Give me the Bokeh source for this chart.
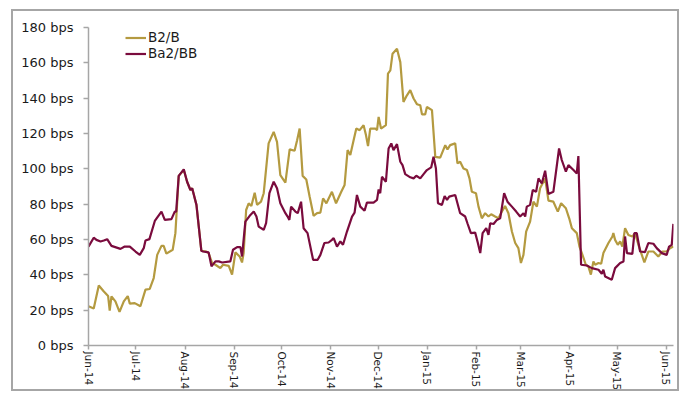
import pandas as pd
from bokeh.plotting import figure
from bokeh.models import FixedTicker, Legend, LegendItem
from bokeh.embed import file_html
from bokeh.resources import INLINE

# ---------------- data ----------------
start_date = "2014-06-01"
month_dates = ["2014-06-01", "2014-07-01", "2014-08-01", "2014-09-01", "2014-10-01",
               "2014-11-01", "2014-12-01", "2015-01-01", "2015-02-01", "2015-03-01",
               "2015-04-01", "2015-05-01", "2015-06-01"]
month_labels = ["Jun-14", "Jul-14", "Aug-14", "Sep-14", "Oct-14", "Nov-14", "Dec-14",
                "Jan-15", "Feb-15", "Mar-15", "Apr-15", "May-15", "Jun-15"]
y_ticks = [0, 20, 40, 60, 80, 100, 120, 140, 160, 180]
y_tick_labels = ["0 bps", "20 bps", "40 bps", "60 bps", "80 bps", "100 bps",
                 "120 bps", "140 bps", "160 bps", "180 bps"]

# days since 2014-06-01
b2_day = [0, 3.3, 6.5, 9.7, 12.4, 13.4, 14.5, 17, 19.6, 22.3, 24.8, 26.1, 29.2, 32.8,
          36, 38.7, 41.2, 43.4, 46.1, 47.5, 49.2, 53.2, 54.9, 57, 60.2, 62.3, 64.4,
          65.5, 68.2, 71.3, 74.3, 75.9, 78.1, 80.2, 83.3, 85, 88.6, 90.7, 92.8, 95.5,
          97, 98, 99.6, 101.2, 102.9, 105, 106.5, 109, 110.7, 113.8, 117, 119.1,
          121.2, 124.4, 127.1, 130.2, 131.8, 133.4, 135.3, 137.6, 139.7, 142.2, 144.4,
          146.5, 148.2, 150.3, 153.8, 156.4, 159.7, 161.8, 163.7, 165.4, 167.5, 169.2,
          171.3, 173.8, 175.3, 176.6, 178, 181.2, 182.3, 183.3, 184.8, 187.9, 189.2,
          190.7, 192.1, 194.9, 197, 199, 201.2, 203.3, 205.4, 207.5, 209.6, 210.7,
          212.7, 213.8, 217, 219.1, 222.2, 225.4, 226.8, 228.5, 231.7, 233.1, 234.8,
          236.9, 239.1, 240.7, 242.2, 244.8, 246.4, 248.5, 250.6, 252.7, 254.4, 256.9,
          259, 261.2, 263.2, 265.3, 267.5, 269.6, 271.6, 273.2, 274.8, 276.5, 279,
          281.1, 283.3, 285.3, 288.5, 290.6, 293.7, 296.5, 298.6, 301.6, 303.7, 305.4,
          308.5, 310.2, 311.7, 314.2, 315.8, 317.4, 319, 320.1, 322.2, 323.9, 325.3,
          328.5, 331, 331.6, 332.7, 334.4, 335.9, 337.3, 339, 341.1, 343.6, 345.3,
          347.8, 351.2, 353.7, 356.9, 360, 362.6, 365.3, 367.4, 369.5]
b2_bps = [22.2, 21, 34, 30.6, 28, 19.7, 27.8, 25, 19, 25, 28, 23.7, 24, 22.2,
          31.6, 32, 38.2, 51.3, 56.4, 56.4, 52, 54.2, 63.6, 96, 99.3, 92.7, 88,
          89, 79.6, 53.6, 53.2, 52.3, 46.7, 45.7, 43.8, 45.7, 45.1, 40.1, 52.7, 50.4,
          47, 52.3, 76.7, 80.5, 79, 86.5, 79.6, 81.4, 86.2, 114.4, 120.9, 115.3,
          96.5, 92.2, 111, 110.2, 116.2, 122.8, 96, 94, 84.3, 73.4, 74.9,
          75.2, 83.3, 80.5, 87, 80.5, 87, 90.9, 110.6, 107.8, 116.2, 122.8,
          121.9, 124.7, 119.1, 112.9, 122.8, 122.8, 121.9, 129.4, 122.8, 124.7, 153.9,
          155.7, 165.2, 168, 160.4, 137.9, 141.6, 144.5, 139.8, 136.6, 136, 130.8,
          130.8, 135, 133.2, 106.8, 106.3, 113.4, 111, 113.4, 114.4, 103.1, 104,
          100.2, 99.3, 94.6, 87, 86.2, 78.6, 72, 74.9, 73, 74.3, 73,
          72, 75.8, 79, 74.9, 64.5, 58, 55.1, 46.7, 51.3, 64.5, 70.1,
          81.4, 78.6, 89, 94.5, 82, 81.4, 75.8, 80.5, 77.7, 72, 66.4,
          63.6, 56, 52.3, 45.7, 44.8, 40.1, 47.6, 45.7, 46.7, 46.3, 52.3,
          58, 61.7, 63.6, 59.8, 57, 58.9, 56, 66.4, 62.6, 61.7, 63.6,
          56, 47, 53.2, 53.2, 50.4, 53.2, 53.2, 55.1, 56]

ba2_day = [0, 3.3, 5, 7.6, 9.7, 11.8, 14.5, 20.2, 22.9, 26.1, 29.7, 32.4, 34.9, 36,
           38.5, 41.9, 46.1, 48.2, 52.4, 54.5, 55.4, 57, 60.2, 62.3, 64.4, 65.5, 68.2,
           71.3, 72.4, 75.9, 77.7, 80.2, 82.3, 84.4, 89.6, 91.3, 93.9, 96, 97, 99.1,
           102.3, 104.4, 106.1, 107.5, 110.7, 112.2, 114.3, 117, 119.1, 121.2, 124.4,
           125.8, 126.9, 128, 130.7, 132.2, 134.3, 135.9, 138.4, 141.9, 144.8, 146.5,
           149, 151.7, 153.8, 154.9, 157, 159.1, 160.8, 163.3, 166.5, 168.1, 169.6,
           171.7, 174.4, 175.9, 180.1, 182.3, 183.3, 184.3, 185.4, 187.9, 189.6, 191.3,
           192.7, 194.9, 197, 198.4, 200.1, 203.3, 205.4, 207.1, 209.6, 211.7, 213.8,
           216.5, 218, 219.5, 220.8, 223.3, 225, 226.5, 227.9, 231.7, 234.8, 238,
           239.4, 241.6, 244.3, 246, 247.5, 249, 251.3, 252.7, 253.8, 255.9, 258,
           260.1, 262.6, 264.7, 267.5, 270.2, 272.7, 274.8, 275.9, 276.9, 279, 280.7,
           282.8, 284.3, 286.4, 288.5, 290.6, 293.7, 297.3, 299, 301.6, 303.2, 306.4,
           308.5, 309.5, 311.2, 314.8, 318, 322.2, 324.3, 325.3, 326.4, 330.6, 332.7,
           335.9, 338, 339, 340.2, 343.6, 344.9, 346.4, 348.5, 351.6, 353.7, 356.9,
           359, 362.2, 365.3, 366.8, 368.5, 369.5]
ba2_bps = [56, 61, 59.8, 58.9, 59.4, 60.2, 56.4, 54.7, 56, 56, 53.2, 51.3, 55.1, 59.4,
           60.2, 70.5, 75.8, 71.1, 71.5, 75.8, 75.8, 96, 99.7, 92.7, 88, 89, 79.6,
           53.6, 53.2, 52.7, 44.8, 47.6, 47.6, 47, 47.6, 54.2, 55.7, 55.7, 50.4, 70.1,
           73.9, 75.8, 73, 67.3, 65.5, 69.2, 86.2, 92.7, 89, 80.5, 74.9,
           73, 71.1, 78.6, 75.8, 74.9, 81.4, 66.4, 63.6, 48.5, 48.5, 51.3,
           58, 58.3, 59.8, 60.8, 56, 58.9, 57, 64.5, 73, 75.2, 85.2,
           78.6, 76.3, 80.9, 80.9, 82.4, 88.4, 86.2, 95.5, 92.7, 111.5, 114.4,
           110.6, 114, 104, 102.1, 97, 95.2, 94.6, 96.1, 94.6, 97, 99.3,
           100.8, 106.8, 100.2, 80.5, 79.6, 84.6, 82.4, 84.3, 85.2, 74.9, 73,
           69.2, 63.6, 63.9, 58, 52.3, 63.6, 66.4, 62.6, 69.2, 68.8, 71.1,
           72, 86.2, 81.4, 78.6, 75.8, 73, 74.9, 73, 78.6, 79.6, 88,
           87, 94.6, 91.7, 98.9, 85.8, 87, 111.5, 105, 98.4, 102.1, 99.3,
           97.4, 107.2, 45.7, 45.3, 43.8, 42.9, 40.6, 42.9, 39.1, 37.2, 43.8,
           46.7, 47.6, 61.7, 52.3, 51.9, 63.6, 63.6, 53.2, 52.9, 58, 57.6,
           55.1, 52.3, 51.3, 56, 57, 68.8]

# ---------------- styling ----------------
GOLD = "#B49A40"
MAROON = "#7A0B3D"
AXIS_GRAY = "#A6A6A6"
FONT = "DejaVu Sans"

base = pd.Timestamp(start_date)
month_pos = [float((pd.Timestamp(d) - base).days) for d in month_dates]

p = figure(width=668, height=382, x_range=(0, 369.6), y_range=(0, 180),
           output_backend="svg", toolbar_location=None,
           min_border_left=75, min_border_right=8, min_border_top=16, min_border_bottom=47,
           background_fill_color="white", border_fill_color="white")
p.styles = {"border": "2px solid " + AXIS_GRAY, "margin-left": "11px", "margin-top": "9px"}
p.outline_line_color = None
p.xgrid.grid_line_color = None
p.ygrid.grid_line_color = None

r1 = p.line(b2_day, b2_bps, line_color=GOLD, line_width=2.2)
r2 = p.line(ba2_day, ba2_bps, line_color=MAROON, line_width=2.2)

xa = p.xaxis[0]
xa.ticker = FixedTicker(ticks=month_pos)
xa.major_label_overrides = {pos: lab for pos, lab in zip(month_pos, month_labels)}
xa.major_label_orientation = "vertical"
xa.minor_tick_line_color = None
xa.major_tick_out = 4
xa.major_tick_in = 0
xa.major_label_standoff = 2
xa.axis_line_color = AXIS_GRAY
xa.axis_line_width = 1.5
xa.major_tick_line_color = AXIS_GRAY
xa.major_tick_line_width = 1.5
xa.major_label_text_font = FONT
xa.major_label_text_font_size = "10.5px"
xa.major_label_text_color = "#1a1a1a"

ya = p.yaxis[0]
ya.ticker = FixedTicker(ticks=y_ticks)
ya.major_label_overrides = {v: lab for v, lab in zip(y_ticks, y_tick_labels)}
ya.minor_tick_line_color = None
ya.major_tick_out = 5
ya.major_tick_in = 0
ya.major_label_standoff = 10
ya.axis_line_color = AXIS_GRAY
ya.axis_line_width = 1.5
ya.major_tick_line_color = AXIS_GRAY
ya.major_tick_line_width = 1.5
ya.major_label_text_font = FONT
ya.major_label_text_font_size = "13px"
ya.major_label_text_color = "#1a1a1a"

legend = Legend(items=[LegendItem(label="B2/B", renderers=[r1]),
                       LegendItem(label="Ba2/BB", renderers=[r2])],
                location=(37, 284), margin=0, padding=0,
                border_line_alpha=0, background_fill_alpha=0,
                label_text_font=FONT, label_text_font_size="13.5px",
                label_text_color="#1a1a1a",
                glyph_width=21, glyph_height=15, label_height=15,
                spacing=0, label_standoff=2)
p.add_layout(legend)

open("out.html", "w").write(file_html(p, INLINE))
